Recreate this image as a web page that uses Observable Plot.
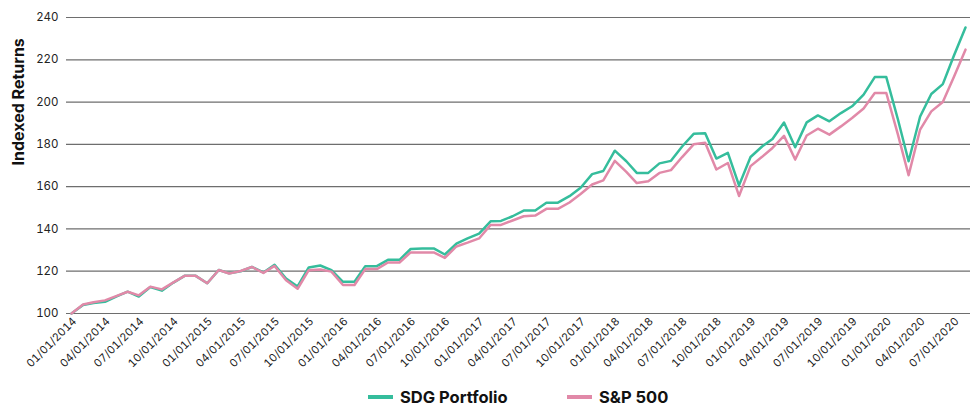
<!DOCTYPE html>
<html>
<head>
<meta charset="utf-8">
<script src="https://cdn.jsdelivr.net/npm/d3@7"></script>
<script src="https://cdn.jsdelivr.net/npm/@observablehq/plot@0.6"></script>
<style>
  html, body { margin: 0; padding: 0; background: #fff; }
  body { width: 976px; height: 407px; overflow: hidden; font-family: Inter, "Noto Sans", sans-serif; }
  #legend { position: relative; height: 22px; font-family: Inter, sans-serif; font-weight: 700; font-size: 16.5px; color: #111; }
  .item { position: absolute; top: 2px; display: flex; align-items: center; white-space: nowrap; }
  .sw { width: 25px; height: 4px; margin-right: 7px; }
</style>
</head>
<body>
<div id="chart"></div>
<div id="legend"></div>
<script>
// Monthly observations, first month and last month
const startMonth = "2014-01-01";
const endMonth = "2020-08-01";
const seriesNames = ["SDG Portfolio", "S&P 500"];
const seriesColors = ["#35bd9c", "#e189a8"];
const sdgValues = [
  100, 104, 105, 105.5, 108, 110.3, 108, 112.5, 110.8, 114.5, 117.8, 117.8,
  114.3, 120.6, 119, 120, 122, 119.4, 123, 116.5, 112.8, 121.8, 122.7, 120.5,
  115, 115, 122.4, 122.4, 125.4, 125.4, 130.5, 130.7, 130.8, 127.9, 133, 135.5,
  137.8, 143.6, 143.8, 146, 148.7, 148.7, 152.4, 152.4, 155.5, 159.5, 165.9, 167.4,
  177, 172, 166.5, 166.5, 171, 172.2, 179, 185, 185.2, 173.3, 176, 160.6,
  174, 179, 182.5, 190.3, 178.6, 190.4, 193.7, 190.9, 194.8, 198, 203.5, 211.8,
  211.8, 192, 172, 193.2, 203.8, 208.5, 222, 235.3
];
const spValues = [
  100, 104.3, 105.3, 106.2, 108.2, 110.3, 108.6, 112.7, 111.4, 114.6, 117.8, 117.8,
  114.3, 120.6, 118.9, 120.1, 122, 119.2, 122.5, 115.7, 111.7, 120.5, 120.8, 119.8,
  113.5, 113.5, 121, 121, 124.1, 124.1, 128.9, 128.9, 128.9, 126.3, 131.7, 133.5,
  135.5, 141.9, 141.9, 144, 146, 146.3, 149.5, 149.5, 152.5, 156.5, 161, 163,
  172.2, 167, 161.7, 162.5, 166.5, 167.8, 174, 180, 180.8, 168.1, 171.2, 155.6,
  169.7, 174.1, 178.3, 184, 172.8, 184.2, 187.4, 184.6, 188.5, 192.5, 197, 204.3,
  204.3, 184.8, 165.4, 187, 195.6, 200, 212, 224.8
];
const yTicks = [100, 120, 140, 160, 180, 200, 220, 240];

const months = d3.utcMonth.range(new Date(startMonth), d3.utcMonth.offset(new Date(endMonth), 1));
const rows = [];
months.forEach((d, i) => {
  rows.push({date: d, value: sdgValues[i], series: seriesNames[0]});
  rows.push({date: d, value: spValues[i], series: seriesNames[1]});
});
const xTicks = months.filter(d => d.getUTCMonth() % 3 === 0);
const fmt = d3.utcFormat("%m/%d/%Y");

const chart = Plot.plot({
  width: 976,
  height: 385,
  marginTop: 17,
  marginLeft: 66,
  marginRight: 6,
  marginBottom: 72,
  style: {fontFamily: "Inter, sans-serif", color: "#222", background: "#fff"},
  x: {type: "utc", domain: [months[0], months[months.length - 1]], insetLeft: 5, insetRight: 5},
  y: {domain: [100, 240]},
  color: {domain: seriesNames, range: seriesColors},
  marks: [
    Plot.ruleY(yTicks, {stroke: "#6e6e6e", strokeWidth: 1.2}),
    Plot.axisY({ticks: yTicks, tickSize: 0, tickPadding: 8, fontSize: 11.5, label: null}),
    Plot.axisX({ticks: xTicks, tickFormat: fmt, tickSize: 0, tickPadding: 6, dx: 3, tickRotate: -45, fontSize: 11, label: null}),
    Plot.line(rows, {x: "date", y: "value", z: "series", stroke: "series", strokeWidth: 2.5, curve: "linear"}),
    Plot.text(["Indexed Returns"], {frameAnchor: "left", dx: -48, rotate: -90, fontSize: 16, fontWeight: 700, fill: "#111"})
  ]
});
document.getElementById("chart").appendChild(chart);

const legend = document.getElementById("legend");
const lefts = [368, 567];
seriesNames.forEach((name, i) => {
  const it = document.createElement("div");
  it.className = "item";
  it.style.left = lefts[i] + "px";
  const sw = document.createElement("span");
  sw.className = "sw";
  sw.style.background = seriesColors[i];
  const tx = document.createElement("span");
  tx.textContent = name;
  it.appendChild(sw);
  it.appendChild(tx);
  legend.appendChild(it);
});
</script>
</body>
</html>
